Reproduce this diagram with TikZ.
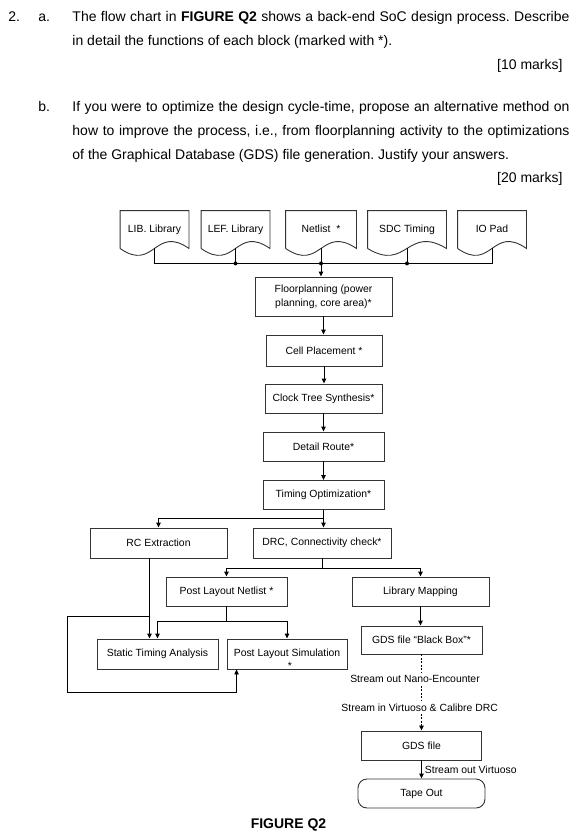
\documentclass[tikz,border=0pt]{standalone}
\usepackage{fontspec}
\setmainfont{Liberation Sans}
\usetikzlibrary{calc,arrows.meta}
\newcommand\qfont{\fontsize{14}{17}\selectfont}
\newcommand\blkfont{\fontsize{10.4}{14}\selectfont}
\def\docwave(#1){\draw[draw=black!80] (#1.south west) -- (#1.north west) -- (#1.north east) -- (#1.south east) .. controls ($(#1.south)+(0,-24)$) and ($(#1.south)+(0,24)$) .. (#1.south west);}

\begin{document}
\frenchspacing
\begin{tikzpicture}[x=1pt, y=-1pt, line width=0.9pt,
	blk/.style={draw=black!80, minimum height=29pt, inner sep=1pt, font=\blkfont, align=center},
	docnode/.style={minimum height=37pt, inner sep=0pt, text height=8pt, text depth=2.2pt, font=\blkfont},
	qtext/.style={font=\qfont, inner sep=0pt, anchor=base west},
	lbl/.style={font=\blkfont, fill=white, inner xsep=1pt, inner ysep=2.5pt},
	flow/.style={-{Triangle[length=5pt,width=4.5pt]}},
	dashline/.style={dash pattern=on 2pt off 1.5pt}]
			%%%%% START %%%%%
			\useasboundingbox (0,0) rectangle (578,839);
			
			\node[qtext] (n2) at (8,21) {2.};
			\node[qtext] (na) at (38,21) {a.};
			\node[qtext] (qa1) at (72,21) {\makebox[497pt][s]{The flow chart in \textbf{FIGURE Q2} shows a back-end SoC design process. Describe}};
			\node[qtext] (qa2) at (72,45.5) {in detail the functions of each block (marked with *).};
			\node[qtext, anchor=base east] (ma) at (563,69) {[10 marks]};
			
			\node[qtext] (nb) at (38,111) {b.};
			\node[qtext] (qb1) at (72,111) {\makebox[497pt][s]{If you were to optimize the design cycle-time, propose an alternative method on}};
			\node[qtext] (qb2) at (72,135) {\makebox[497pt][s]{how to improve the process, i.e., from floorplanning activity to the optimizations}};
			\node[qtext] (qb3) at (72,159) {of the Graphical Database (GDS) file generation. Justify your answers.};
			\node[qtext, anchor=base east] (mb) at (563,182.5) {[20 marks]};
			
			\node[docnode, minimum width=68pt] (lib) at (154.5,229.5) {LIB. Library};
			\node[docnode, minimum width=68pt] (lef) at (235.5,229.5) {LEF. Library};
			\node[docnode, minimum width=70pt] (net) at (321,229.5) {Netlist\hspace{6pt}*};
			\node[docnode, minimum width=78pt] (sdc) at (407,229.5) {SDC Timing};
			\node[docnode, minimum width=68pt] (io) at (492,229.5) {IO Pad};
			\docwave(lib)
			\docwave(lef)
			\docwave(net)
			\docwave(sdc)
			\docwave(io)
			
			\coordinate (bus) at ($(lib.south)+(0,15)$);
			\draw (lib.south) -- (bus) -| (io.south);
			\draw (lef.south) -- (lef.south |- bus);
			\draw (sdc.south) -- (sdc.south |- bus);
			\fill (lef.south |- bus) circle[radius=2pt];
			\fill (net.south |- bus) circle[radius=2pt];
			\fill (sdc.south |- bus) circle[radius=2pt];
			
			\node[blk, minimum width=137pt, minimum height=39pt] (fp) at (323.5,296.5) {Floorplanning (power\\planning, core area)*};
			\node[blk, minimum width=116pt, minimum height=31pt] (cp) at (324,350.5) {Cell Placement *};
			\node[blk, minimum width=117pt] (cts) at (323.5,398.5) {Clock Tree Synthesis*};
			\node[blk, minimum width=121pt] (dr) at (323.5,446.5) {Detail Route*};
			\node[blk, minimum width=121pt] (to) at (323.5,495) {Timing Optimization*};
			\draw[flow] (net.south) -- (net.south |- fp.north);
			\draw[flow] (fp.south) -- (fp.south |- cp.north);
			\draw[flow] (cp.south) -- (cp.south |- cts.north);
			\draw[flow] (cts.south) -- (cts.south |- dr.north);
			\draw[flow] (dr.south) -- (dr.south |- to.north);
			
			\node[blk, minimum width=137pt, minimum height=30pt] (rc) at (158.5,543) {RC Extraction};
			\node[blk, minimum width=138pt, minimum height=30pt] (drc) at (322,543) {DRC, Connectivity check*};
			\draw[flow] (to.south) -- ++(0,8) -| (rc.north);
			\draw[flow] (to.south) -- (to.south |- drc.north);
			
			\node[blk, minimum width=121pt] (pln) at (226.5,591.5) {Post Layout Netlist *};
			\node[blk, minimum width=137pt] (lm) at (420.5,591.5) {Library Mapping};
			\draw[flow] (drc.south) -- ++(0,9.5) -| (pln.north);
			\draw[flow] (drc.south) -- ++(0,9.5) -| (lm.north);
			
			\node[blk, minimum width=121pt, minimum height=30pt] (sta) at (157.5,654) {Static Timing Analysis};
			\node[blk, minimum width=120pt, minimum height=30pt, label={[font=\blkfont, inner sep=0pt, xshift=3pt, yshift=-12pt]center:*}] (pls) at (287,654) {Post Layout Simulation};
			\draw[flow] (pln.south) -- ++(0,15) -| (sta.north);
			\draw[flow] (pln.south) -- ++(0,15) -| (pls.north);
			
			\coordinate (rcout) at ($(rc.south)+(-9,0)$);
			\coordinate (loopc) at (67,692);
			\draw[flow] (rcout) -- (rcout |- sta.north);
			\draw[flow] ($(rcout)+(0,58)$) -| (loopc) -| ($(pls.south west)+(10,0)$);
			
			\node[blk, minimum width=121pt, minimum height=28pt] (gbb) at (421.5,640) {GDS file “Black Box”*};
			\draw[flow] (lm.south) -- (lm.south |- gbb.north);
			
			\node[blk, minimum width=120pt] (gds) at (421.5,745.5) {GDS file};
			\node[blk, minimum width=127pt, rounded corners=9pt] (tape) at (421.5,793.5) {Tape Out};
			\draw[dashline, flow] (gbb.south) -- (gbb.south |- gds.north);
			\node[lbl] (son) at (415,679) {Stream out Nano-Encounter};
			\node[lbl] (siv) at (419.7,707.3) {Stream in Virtuoso \& Calibre DRC};
			\draw[flow] (gds.south) -- (gds.south |- tape.north) node[lbl, midway, right, fill=none, inner xsep=3pt] {Stream out Virtuoso};
			
			\node[qtext, anchor=center, font=\qfont\bfseries] (fig) at (288.5,825) {FIGURE Q2};
			%%%%% END %%%%%
\end{tikzpicture}
\end{document}
